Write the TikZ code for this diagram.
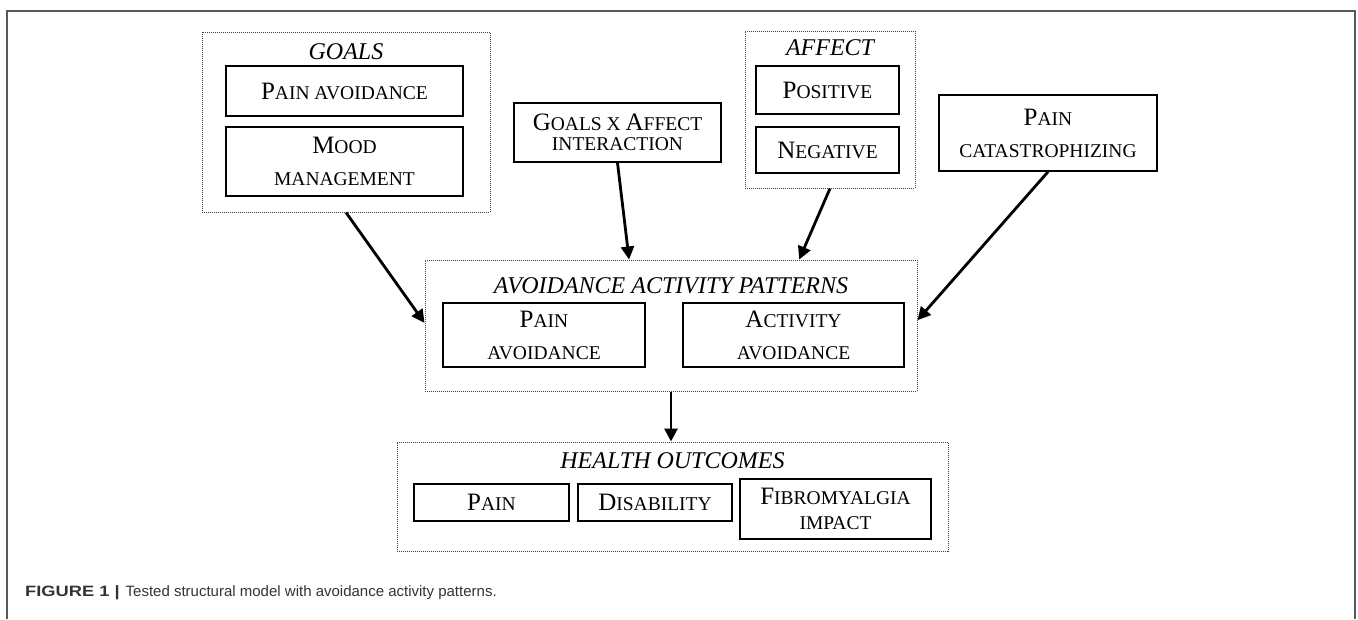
\documentclass[tikz,border=0pt]{standalone}
\usepackage{fontspec}
\setmainfont{Liberation Serif}
\newfontfamily\capfont{Liberation Sans}
\newfontfamily\capb[FakeStretch=1.22]{Liberation Sans Bold}
\usetikzlibrary{arrows.meta,calc}
\newcommand\bg[1]{{\fontsize{25}{32}\selectfont #1}}
\begin{document}
\begin{tikzpicture}[x=1pt,y=-1pt,
 box/.style={draw=black,line width=1.6pt,inner sep=0pt,align=center,font=\fontsize{19.5}{32}\selectfont},
 group/.style={draw=black!75,densely dotted,line width=1pt,inner sep=0pt},
 title/.style={font=\fontsize{24}{28}\selectfont\itshape,anchor=base,inner sep=0pt},
 arr/.style={line width=2.8pt,-{Triangle[length=13pt,width=13pt]}}]
\useasboundingbox (0,0) rectangle (1358,619);
\draw[black!65,line width=1.2pt] (7,619) -- (7,11) -- (1355,11) -- (1355,619);

% containers
\node[group,minimum width=288,minimum height=180] (goals) at (346,122) {};
\node[group,minimum width=170,minimum height=157] (affect) at (830,109.5) {};
\node[group,minimum width=492,minimum height=131] (aap) at (671,325.5) {};
\node[group,minimum width=551,minimum height=109] (health) at (672.5,496.5) {};

% titles
\node[title] (tgoals) at (346,59) {GOALS};
\node[title] (taffect) at (830,55) {AFFECT};
\node[title] (taap) at (671,293) {AVOIDANCE ACTIVITY PATTERNS};
\node[title] (thealth) at (672.5,468) {HEALTH OUTCOMES};

% boxes
\node[box,minimum width=237,minimum height=50] (pa1) at (344.5,91) {\bg{P}AIN AVOIDANCE};
\node[box,minimum width=237,minimum height=69] (mm) at (344.5,161.5) {\bg{M}OOD\\MANAGEMENT};
\node[box,minimum width=207,minimum height=59] (gxa) at (617.5,132.5) {\bg{G}OALS X \bg{A}FFECT\\[-12pt]INTERACTION};
\node[box,minimum width=143,minimum height=48] (pos) at (827.5,90) {\bg{P}OSITIVE};
\node[box,minimum width=143,minimum height=46] (neg) at (827.5,150) {\bg{N}EGATIVE};
\node[box,minimum width=218,minimum height=76] (cat) at (1048,133) {\bg{P}AIN\\CATASTROPHIZING};
\node[box,minimum width=202,minimum height=64] (painav) at (544,335) {\bg{P}AIN\\AVOIDANCE};
\node[box,minimum width=221,minimum height=64] (actav) at (793.5,335) {\bg{A}CTIVITY\\AVOIDANCE};
\node[box,minimum width=155,minimum height=37] (pain) at (491.5,502.5) {\bg{P}AIN};
\node[box,minimum width=154,minimum height=37] (dis) at (655,502.5) {\bg{D}ISABILITY};
\node[box,minimum width=191,minimum height=60] (fib) at (835.5,509) {\bg{F}IBROMYALGIA\\[-7pt]IMPACT};

% arrows
\draw[arr] (goals.south) -- ($(aap.north west)!0.48!(aap.south west)$);
\draw[arr] (gxa.south) -- ($(aap.north west)!0.415!(aap.north east)$);
\draw[arr] (affect.south) -- ($(aap.north west)!0.76!(aap.north east)$);
\draw[arr] (cat.south) -- ($(aap.north east)!0.46!(aap.south east)$);
\draw[arr] (aap.south) -- (aap.south |- health.north);

% caption
\node[anchor=base west,inner sep=0pt,font=\capfont\fontsize{15}{18}\selectfont,text=black!80] (cap) at (25,596)
 {{\capb FIGURE 1}\hspace{5pt}{\capb |}\hspace{6pt}Tested structural model with avoidance activity patterns.};
\end{tikzpicture}
\end{document}
